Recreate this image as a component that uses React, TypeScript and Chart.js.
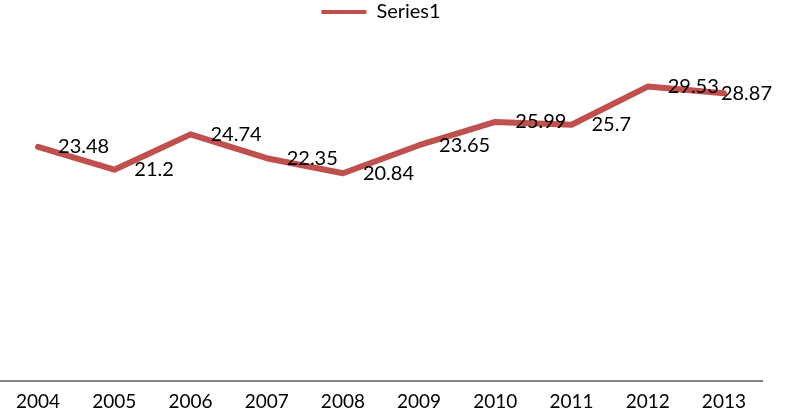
import React, { useEffect, useRef } from "react";
import { Chart, registerables } from "chart.js";

Chart.register(...registerables);

const categories = ["2004", "2005", "2006", "2007", "2008", "2009", "2010", "2011", "2012", "2013"];
const series1 = [23.48, 21.2, 24.74, 22.35, 20.84, 23.65, 25.99, 25.7, 29.53, 28.87];
const seriesName = "Series1";
const lineColor = "#C0504D";
const FONT = "Lato, 'Open Sans', sans-serif";

const dataLabels = {
  id: "dataLabels",
  afterDatasetsDraw(chart: any) {
    const ctx = chart.ctx;
    const meta = chart.getDatasetMeta(0);
    const data = chart.data.datasets[0].data as number[];
    ctx.save();
    ctx.font = `20px ${FONT}`;
    ctx.fillStyle = "#000";
    ctx.textAlign = "left";
    ctx.textBaseline = "middle";
    meta.data.forEach((pt: any, i: number) => {
      const txt = String(data[i]);
      const w = ctx.measureText(txt).width;
      let x = pt.x + 20;
      if (x + w > chart.width - 14) x = chart.width - 14 - w;
      ctx.fillText(txt, x, pt.y);
    });
    ctx.restore();
  },
};

export default function App() {
  const ref = useRef<HTMLCanvasElement>(null);
  useEffect(() => {
    if (!ref.current) return;
    const chart = new Chart(ref.current, {
      type: "line",
      data: {
        labels: categories,
        datasets: [
          {
            label: seriesName,
            data: series1,
            borderColor: lineColor,
            backgroundColor: lineColor,
            borderWidth: 6,
            tension: 0,
            pointRadius: 0,
            borderJoinStyle: "round",
            borderCapStyle: "round",
          },
        ],
      },
      options: {
        animation: false,
        responsive: false,
        layout: { padding: { left: 0, right: 24, top: 2, bottom: -7 } },
        plugins: {
          tooltip: { enabled: false },
          legend: {
            position: "top",
            labels: {
              boxWidth: 45,
              boxHeight: 4,
              padding: 0,
              color: "#000",
              font: { family: FONT, size: 20 },
              generateLabels: (c: any) =>
                Chart.defaults.plugins.legend.labels.generateLabels(c).map((l: any) => ({
                  ...l,
                  lineWidth: 0,
                  fillStyle: lineColor,
                })),
            },
          },
        },
        scales: {
          x: {
            offset: true,
            grid: { display: false, drawTicks: false },
            border: { display: true, color: "#868686", width: 2 },
            ticks: { color: "#000", font: { family: FONT, size: 19 }, padding: 9, maxRotation: 0 },
          },
          y: {
            display: false,
            min: 0,
            max: 35,
          },
        },
      },
      plugins: [dataLabels],
    });
    return () => chart.destroy();
  }, []);
  return (
    <div style={{ position: "absolute", left: 0, top: 0, width: 786, height: 415, background: "#fff" }}>
      <canvas ref={ref} width={786} height={415} />
    </div>
  );
}
